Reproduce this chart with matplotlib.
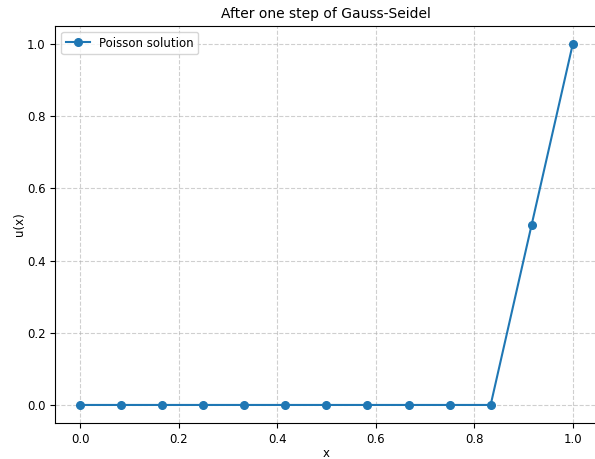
import numpy as np
import matplotlib.pyplot as plt

x = [0, 1/12, 2/12, 3/12, 4/12, 5/12, 6/12, 7/12, 8/12, 9/12, 10/12, 11/12, 1.0]
u = [0, 0, 0, 0, 0, 0, 0, 0, 0, 0, 0, 0.5, 1.0]

plt.rcParams['font.size'] = 8.5

fig = plt.figure(figsize=(5.95, 4.59), dpi=100)
ax = fig.add_axes([55.4/595, 36/459, 542/595, 397/459])
ax.plot(x, u, 'o-', markersize=5.5, label='Poisson solution')
ax.set_title('After one step of Gauss-Seidel', fontsize=10)
ax.set_xlabel('x', labelpad=1)
ax.set_ylabel('u(x)', labelpad=1)
ax.grid(True, linestyle='--', alpha=0.6)
ax.legend(loc='upper left')

fig.savefig('out.png')
